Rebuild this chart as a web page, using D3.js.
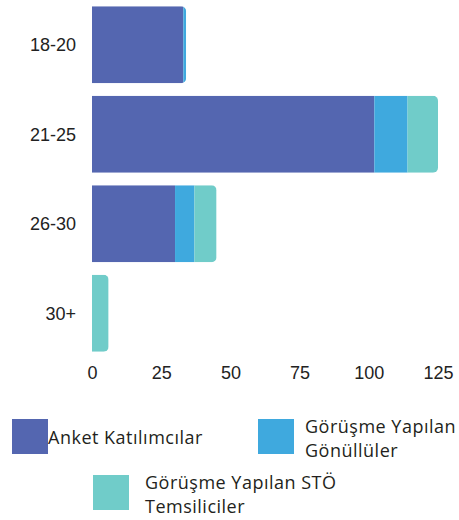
<!DOCTYPE html>
<html>
<head>
<meta charset="utf-8">
<script src="https://cdn.jsdelivr.net/npm/d3@7"></script>
<style>
  body { margin: 0; background: #fff; }
  .tick text { font-family: "Liberation Sans", Arial, sans-serif; font-size: 18px; fill: #222; }
  .legend text { font-family: "Open Sans", sans-serif; font-size: 18px; letter-spacing: 0.5px; fill: #231f20; }
</style>
</head>
<body>
<div id="chart-container"></div>
<script>
var categories = ['18-20', '21-25', '26-30', '30+'];
var seriesNames = ['Anket Katılımcılar', 'Görüşme Yapılan Gönüllüler', 'Görüşme Yapılan STÖ Temsilciler'];
var anket = [33, 102, 30, 0];
var gonullu = [1, 12, 7, 0];
var sto = [0, 11, 8, 6];
var xTicks = [0, 25, 50, 75, 100, 125];
var colors = ['#5466b0', '#3fa9de', '#70ccc9'];

var legendLines = [
  ['Anket Katılımcılar'],
  ['Görüşme Yapılan', 'Gönüllüler'],
  ['Görüşme Yapılan STÖ', 'Temsiliciler']
];

var rows = categories.map(function(c, i) {
  return { cat: c, a: anket[i], g: gonullu[i], s: sto[i] };
});

var svg = d3.select('#chart-container')
            .append('svg')
            .attr('width', 459)
            .attr('height', 520);

var x = d3.scaleLinear().domain([0, 125]).range([92, 438]);
var y = d3.scaleBand().domain(categories).range([0, 358])
          .paddingInner(0.14).paddingOuter(0.07);

var stack = d3.stack().keys(['a', 'g', 's'])(rows);

// rounded right end: clip every row to a rounded rect
var defs = svg.append('defs');
rows.forEach(function(d, i) {
  var total = d.a + d.g + d.s;
  defs.append('clipPath')
      .attr('id', 'clip' + i)
    .append('rect')
      .attr('x', x(0) - 10)
      .attr('y', y(d.cat))
      .attr('width', x(total) - x(0) + 10)
      .attr('height', y.bandwidth())
      .attr('rx', 5)
      .attr('ry', 5);
});

var rowG = svg.selectAll('g.row')
   .data(rows)
   .enter()
   .append('g')
     .attr('class', 'row')
     .attr('clip-path', function(d, i) { return 'url(#clip' + i + ')'; });

rowG.each(function(d, i) {
  var g = d3.select(this);
  stack.forEach(function(layer, k) {
    var seg = layer[i];
    if (seg[1] - seg[0] <= 0) return;
    g.append('rect')
      .attr('x', x(seg[0]))
      .attr('y', y(d.cat))
      .attr('width', x(seg[1]) - x(seg[0]))
      .attr('height', y.bandwidth())
      .attr('fill', colors[k]);
  });
});

var xAxis = svg.append('g')
   .attr('transform', 'translate(0,362)')
   .call(d3.axisBottom(x).tickValues(xTicks).tickSize(0).tickPadding(4));
xAxis.select('.domain').remove();

var yAxis = svg.append('g')
   .attr('transform', 'translate(76,0)')
   .call(d3.axisLeft(y).tickSize(0).tickPadding(0));
yAxis.select('.domain').remove();
yAxis.selectAll('text').attr('dy', '0.35em');

// legend
var legendPos = [
  { sx: 12, sy: 419, tx: 48, ty: 444 },
  { sx: 258, sy: 419, tx: 305, ty: 433 },
  { sx: 93, sy: 475, tx: 145, ty: 489 }
];

var legend = svg.append('g').attr('class', 'legend');
legendPos.forEach(function(p, i) {
  legend.append('rect')
    .attr('x', p.sx)
    .attr('y', p.sy)
    .attr('width', 36)
    .attr('height', 35)
    .attr('fill', colors[i]);
  var t = legend.append('text')
    .attr('x', p.tx)
    .attr('y', p.ty);
  legendLines[i].forEach(function(line, j) {
    t.append('tspan')
      .attr('x', p.tx)
      .attr('dy', j ? 24 : 0)
      .text(line);
  });
});
</script>
</body>
</html>
